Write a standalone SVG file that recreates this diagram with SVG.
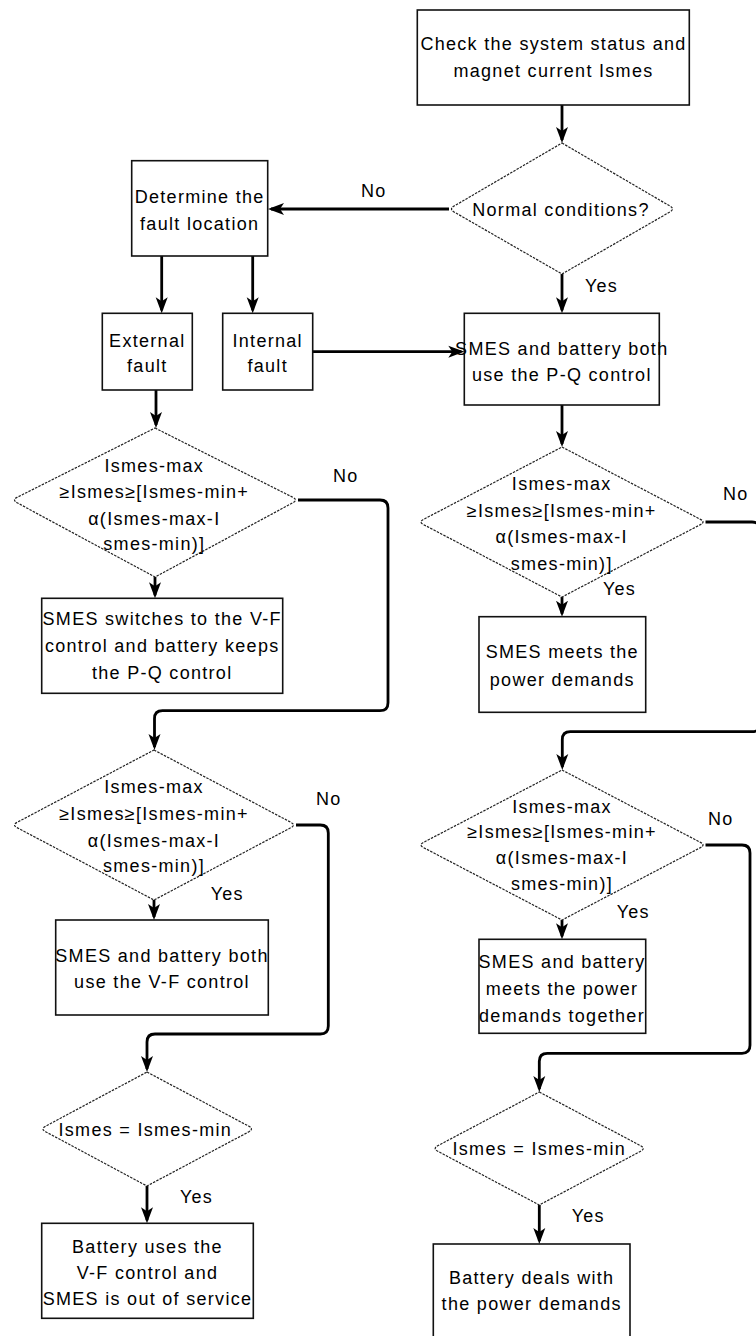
<svg xmlns="http://www.w3.org/2000/svg" width="756" height="1336" viewBox="0 0 756 1336">
<style>
.box{fill:#fff;stroke:#111;stroke-width:1.6}
.dia{fill:#fff;stroke:#222;stroke-width:1.2;stroke-dasharray:2.5 1.2}
.t{font-family:"Liberation Sans",Arial,sans-serif;font-size:18px;letter-spacing:1.3px;text-anchor:middle;fill:#000}
.l{font-family:"Liberation Sans",Arial,sans-serif;font-size:18px;letter-spacing:1.2px;fill:#000}
.c{fill:none;stroke:#000;stroke-width:2.8;marker-end:url(#ah)}
</style>
<defs>
<marker id="ah" markerUnits="userSpaceOnUse" markerWidth="16" markerHeight="14" viewBox="0 0 16 14" refX="13" refY="7" orient="auto">
<path d="M0,1 L16,7 L0,13 L4,7 Z" fill="#000"/>
</marker>
</defs>
<rect width="756" height="1336" fill="#fff"/>

<g id="connectors">
<path class="c" d="M562,105 V140"/>
<path class="c" d="M449,209 H271"/>
<path class="c" d="M161.7,256 V310.3"/>
<path class="c" d="M252.7,256 V310.3"/>
<path class="c" d="M562,274 V310.3"/>
<path class="c" d="M312.7,351.7 H461.3"/>
<path class="c" d="M156,390 V425"/>
<path class="c" d="M562,405 V444"/>
<path class="c" d="M155,577 V595.3"/>
<path class="c" d="M298,500 H380 Q388,500 388,508 V702.7 Q388,710.7 380,710.7 H162.5 Q154.5,710.7 154.5,718.7 V747"/>
<path class="c" d="M562,597 V613.7"/>
<path class="c" d="M705.5,522 H752 Q760,522 760,530 V723.7 Q760,731.7 752,731.7 H570.3 Q562.3,731.7 562.3,739.7 V767"/>
<path class="c" d="M154,900 V917"/>
<path class="c" d="M296,825 H320.3 Q328.3,825 328.3,833 V1026 Q328.3,1034 320.3,1034 H155 Q147,1034 147,1042 V1069"/>
<path class="c" d="M562,920 V936.3"/>
<path class="c" d="M705.5,845 H742 Q750,845 750,853 V1045.3 Q750,1053.3 742,1053.3 H547.3 Q539.3,1053.3 539.3,1061.3 V1089"/>
<path class="c" d="M147,1186 V1220.3"/>
<path class="c" d="M539.3,1205 V1241"/>
<text class="l" x="361" y="196.5">No</text>
<text class="l" x="585" y="291.5">Yes</text>
<text class="l" x="333" y="481.5">No</text>
<text class="l" x="723" y="500">No</text>
<text class="l" x="603" y="595">Yes</text>
<text class="l" x="316" y="804.5">No</text>
<text class="l" x="210.7" y="900">Yes</text>
<text class="l" x="708" y="825">No</text>
<text class="l" x="616.7" y="918">Yes</text>
<text class="l" x="180" y="1202.5">Yes</text>
<text class="l" x="571.7" y="1221.5">Yes</text>
</g>

<g id="n-check">
<rect class="box" x="417.3" y="10" width="272" height="95"/>
<text class="t" x="553.5" y="50">Check the system status and</text>
<text class="t" x="553.5" y="77">magnet current Ismes</text>
</g>

<g id="n-normal">
<path class="dia" d="M562,143 L670,206.1 Q675,209 670,211.9 L562,274 L454,211.9 Q449,209 454,206.1 Z"/>
<text class="t" x="561" y="215.5">Normal conditions?</text>
</g>

<g id="n-determine">
<rect class="box" x="131.7" y="160.7" width="136" height="95.3"/>
<text class="t" x="199.7" y="203.3">Determine the</text>
<text class="t" x="199.7" y="230">fault location</text>
</g>

<g id="n-external">
<rect class="box" x="102.3" y="313.3" width="90" height="76.7"/>
<text class="t" x="147.3" y="346.7">External</text>
<text class="t" x="147.3" y="372">fault</text>
</g>

<g id="n-internal">
<rect class="box" x="222.7" y="313.3" width="90" height="76.7"/>
<text class="t" x="267.7" y="346.7">Internal</text>
<text class="t" x="267.7" y="372">fault</text>
</g>

<g id="n-pq">
<rect class="box" x="464.3" y="313.3" width="195" height="91.7"/>
<text class="t" x="561.8" y="355">SMES and battery both</text>
<text class="t" x="561.8" y="380.5">use the P-Q control</text>
</g>

<g id="n-condA">
<path class="dia" d="M155,428 L293,497.4 Q298,500 293,502.7 L155,577 L17,502.7 Q12,500 17,497.4 Z"/>
<text class="t" x="154.3" y="471.5">Ismes-max</text>
<text class="t" x="154.3" y="498">≥Ismes≥[Ismes-min+</text>
<text class="t" x="154.3" y="524.5">α(Ismes-max-I</text>
<text class="t" x="154.3" y="549.5">smes-min)]</text>
</g>

<g id="n-switch">
<rect class="box" x="41.7" y="598.3" width="241" height="95"/>
<text class="t" x="162.2" y="624.5">SMES switches to the V-F</text>
<text class="t" x="162.2" y="652">control and battery keeps</text>
<text class="t" x="162.2" y="679">the P-Q control</text>
</g>

<g id="n-condB">
<path class="dia" d="M562,447 L700.5,519.4 Q705.5,522 700.5,524.6 L562,597 L423.5,524.6 Q418.5,522 423.5,519.4 Z"/>
<text class="t" x="561.7" y="489.5">Ismes-max</text>
<text class="t" x="561.7" y="516.5">≥Ismes≥[Ismes-min+</text>
<text class="t" x="561.7" y="543">α(Ismes-max-I</text>
<text class="t" x="561.7" y="569.5">smes-min)]</text>
</g>

<g id="n-meets">
<rect class="box" x="479" y="616.7" width="166.7" height="95.6"/>
<text class="t" x="562.3" y="658">SMES meets the</text>
<text class="t" x="562.3" y="685.5">power demands</text>
</g>

<g id="n-condC">
<path class="dia" d="M154,750 L291,822.4 Q296,825 291,827.6 L154,900 L17,827.6 Q12,825 17,822.4 Z"/>
<text class="t" x="154" y="793">Ismes-max</text>
<text class="t" x="154" y="820">≥Ismes≥[Ismes-min+</text>
<text class="t" x="154" y="846.5">α(Ismes-max-I</text>
<text class="t" x="154" y="871.5">smes-min)]</text>
</g>

<g id="n-vfboth">
<rect class="box" x="55.7" y="920" width="212.6" height="95"/>
<text class="t" x="162" y="961.5">SMES and battery both</text>
<text class="t" x="162" y="988">use the V-F control</text>
</g>

<g id="n-condD">
<path class="dia" d="M562,770 L700.5,842.4 Q705.5,845 700.5,847.6 L562,920 L423.5,847.6 Q418.5,845 423.5,842.4 Z"/>
<text class="t" x="562" y="812.5">Ismes-max</text>
<text class="t" x="562" y="837.5">≥Ismes≥[Ismes-min+</text>
<text class="t" x="562" y="863.5">α(Ismes-max-I</text>
<text class="t" x="562" y="890">smes-min)]</text>
</g>

<g id="n-together">
<rect class="box" x="479" y="939.3" width="166.7" height="94"/>
<text class="t" x="562" y="968">SMES and battery</text>
<text class="t" x="562" y="995">meets the power</text>
<text class="t" x="562" y="1021.5">demands together</text>
</g>

<g id="n-condE">
<path class="dia" d="M147,1072 L249,1126.3 Q254,1129 249,1131.7 L147,1186 L45.5,1131.7 Q40.5,1129 45.5,1126.3 Z"/>
<text class="t" x="145.3" y="1135.5">Ismes = Ismes-min</text>
</g>

<g id="n-batteryuses">
<rect class="box" x="41.7" y="1223.3" width="211.6" height="95"/>
<text class="t" x="147.5" y="1253">Battery uses the</text>
<text class="t" x="147.5" y="1279">V-F control and</text>
<text class="t" x="147.5" y="1305">SMES is out of service</text>
</g>

<g id="n-condF">
<path class="dia" d="M539.3,1092 L640.7,1145.8 Q645.7,1148.5 640.7,1151.2 L539.3,1205 L437.7,1151.2 Q432.7,1148.5 437.7,1145.8 Z"/>
<text class="t" x="539.3" y="1155">Ismes = Ismes-min</text>
</g>

<g id="n-batterydeals">
<rect class="box" x="433.3" y="1244" width="196.7" height="95"/>
<text class="t" x="531.7" y="1284">Battery deals with</text>
<text class="t" x="531.7" y="1310">the power demands</text>
</g>
</svg>
